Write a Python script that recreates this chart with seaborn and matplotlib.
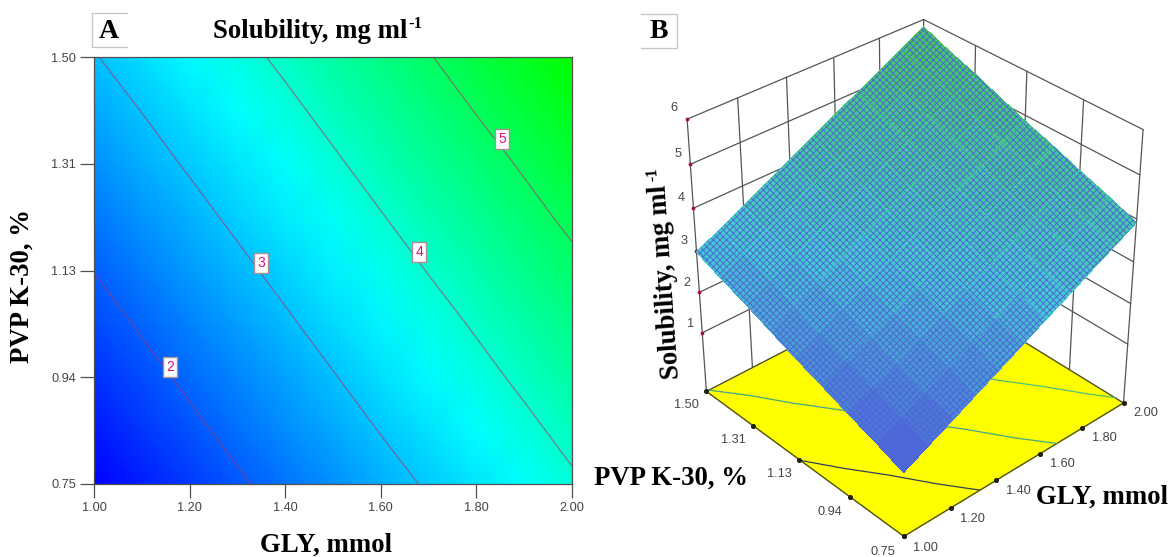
import numpy as np
import pandas as pd
import matplotlib
matplotlib.use('Agg')
import matplotlib.pyplot as plt
import seaborn as sns
from matplotlib.colors import LinearSegmentedColormap
from matplotlib.lines import Line2D
from mpl_toolkits.mplot3d import proj3d

# Values
gly = [1.0, 1.1, 1.2, 1.3, 1.4, 1.5, 1.6, 1.7, 1.8, 1.9, 2.0]
pvp = ['0.75', '0.84', '0.94', '1.03', '1.13', '1.22', '1.31', '1.41', '1.50']
gly_ticks = ['1.00', '1.20', '1.40', '1.60', '1.80', '2.00']
pvp_ticks = ['0.75', '0.94', '1.13', '1.31', '1.50']
sol_ticks = [1, 2, 3, 4, 5, 6]
levels = [2, 3, 4, 5]

row_075 = [1.06, 1.35, 1.63, 1.92, 2.20, 2.49, 2.78, 3.06, 3.35, 3.63, 3.92]
row_084 = [1.30, 1.59, 1.87, 2.16, 2.44, 2.73, 3.02, 3.30, 3.59, 3.87, 4.16]
row_094 = [1.54, 1.82, 2.11, 2.40, 2.68, 2.97, 3.26, 3.54, 3.83, 4.11, 4.40]
row_103 = [1.77, 2.06, 2.35, 2.63, 2.92, 3.21, 3.49, 3.78, 4.06, 4.35, 4.63]
row_113 = [2.01, 2.30, 2.59, 2.87, 3.16, 3.44, 3.73, 4.02, 4.30, 4.59, 4.87]
row_122 = [2.25, 2.54, 2.82, 3.11, 3.40, 3.68, 3.97, 4.26, 4.54, 4.83, 5.11]
row_131 = [2.49, 2.78, 3.06, 3.35, 3.63, 3.92, 4.21, 4.49, 4.78, 5.06, 5.35]
row_141 = [2.73, 3.01, 3.30, 3.59, 3.87, 4.16, 4.45, 4.73, 5.02, 5.30, 5.59]
row_150 = [2.97, 3.25, 3.54, 3.83, 4.11, 4.40, 4.69, 4.97, 5.26, 5.54, 5.83]

table = pd.DataFrame([row_075, row_084, row_094, row_103, row_113, row_122, row_131, row_141, row_150],
                     index=pvp, columns=gly)

sns.set_theme(style='white')
plt.rcParams['font.family'] = ['Liberation Sans', 'DejaVu Sans']
plt.rcParams['hatch.color'] = '#0c2530'
plt.rcParams['hatch.linewidth'] = 0.7

W, H = 1170, 557
fig = plt.figure(figsize=(W / 100, H / 100), dpi=100)
serif = dict(family='Liberation Serif', weight='bold', color='black', ha='center', va='center')
tick_grey = '#505050'


def put(x, y, s, size=19.3, **kw):
    fig.text(x / W, 1 - y / H, s, fontsize=size, **{**serif, **kw})


def box_lines(points):
    xs, ys = zip(*points)
    fig.add_artist(Line2D([x / W for x in xs], [1 - y / H for y in ys], color='#c4c4c4', lw=0.9))


# Panel A: contour plot
ax = fig.add_axes([94 / W, (H - 484) / H, 478 / W, 426.8 / H])
cmap_a = LinearSegmentedColormap.from_list('bcg', [(0, '#0000ff'), (0.53, '#00ffff'), (1, '#00ff00')])
sns.heatmap(table, ax=ax, cmap=cmap_a, cbar=False, vmin=1.06, vmax=5.83, shading='gouraud',
            xticklabels=False, yticklabels=False)
ax.contour(table.values, levels=levels, colors='#b0306a', linewidths=0.85, alpha=0.65)
ax.set_xlim(0, 10)
ax.set_ylim(0, 8)
ax.set_xticks(np.arange(0, 11, 2), gly_ticks)
ax.set_yticks(np.arange(0, 9, 2), pvp_ticks)
ax.tick_params(length=10, width=0.9, color=tick_grey, labelcolor='#444444', labelsize=9.2, pad=3,
               bottom=True, left=True)
for sp in ax.spines.values():
    sp.set_visible(True)
    sp.set_color(tick_grey)
    sp.set_linewidth(0.9)

label_spots = [(1.60, 2.20), (3.49, 4.14), (6.80, 4.35), (8.54, 6.46)]
for lev, (lx, ly) in zip(levels, label_spots):
    ax.text(lx, ly, str(lev), color='#e0107a', fontsize=10, ha='center', va='center',
            bbox=dict(boxstyle='square,pad=0.22', fc='white', ec='#a89098', lw=1))

put(310, 31, 'Solubility, mg ml')
put(415, 24, '-1', size=12)
put(109, 32, 'A', size=20)
box_lines([(127, 12.5), (92, 12.5), (92, 47), (127, 47)])
put(326, 545, 'GLY, mmol')
put(22, 286, 'PVP K-30, %', rotation=90)

# Panel B: surface plot
zmin, zmax = -0.5, 6
side = 530
ax3 = fig.add_axes([(907 - side / 2) / W, (H - 274 - side / 2) / H, side / W, side / H], projection='3d')
ax3.patch.set_visible(False)
ax3.set_axis_off()
ax3.computed_zorder = False
ax3.view_init(elev=34, azim=-132.4)
ax3.set_proj_type('persp', focal_length=0.72)
ax3.set_box_aspect((1, 1, 1.065))
ax3.set_xlim(1, 2)
ax3.set_ylim(0.75, 1.5)
ax3.set_zlim(zmin, zmax)

gx = np.array(table.columns, dtype=float)
gy = np.array(table.index, dtype=float)
X, Y = np.meshgrid(gx, gy)
tx = gx[::2]
ty = gy[::2]
wall = dict(color='#555555', lw=0.9, zorder=1)

# back walls
for z in sol_ticks:
    ax3.plot([1, 2], [1.5, 1.5], [z, z], **wall)
    ax3.plot([2, 2], [1.5, 0.75], [z, z], **wall)
for x in tx[1:-1]:
    ax3.plot([x, x], [1.5, 1.5], [zmin, zmax], **wall)
for y in ty[1:-1]:
    ax3.plot([2, 2], [y, y], [zmin, zmax], **wall)
ax3.plot([2, 2], [1.5, 1.5], [zmin, zmax], **wall)
ax3.plot([1, 1], [1.5, 1.5], [zmin, zmax], **wall)
ax3.plot([2, 2], [0.75, 0.75], [zmin, zmax], **wall)

# floor with the contours on it
floor_x, floor_y = np.meshgrid([1, 2], [0.75, 1.5])
ax3.plot_surface(floor_x, floor_y, np.full((2, 2), zmin), color='#ffff00', shade=False, zorder=2,
                 antialiased=False, linewidth=0)
ax3.plot([1, 2, 2, 1, 1], [0.75, 0.75, 1.5, 1.5, 0.75], [zmin] * 5, color='#505010', lw=1, zorder=3)
cs = ax3.contour(X, Y, table.values, levels=levels, zdir='z', offset=zmin,
                 colors=['#30405a', '#40a888', '#50c078', '#50c078'], linewidths=0.9, zorder=3)
cs.set_zorder(3)
ax3.scatter(tx, [0.75] * len(tx), [zmin] * len(tx), color='#202010', s=7, depthshade=False, zorder=4)
ax3.scatter([1] * len(ty), ty, [zmin] * len(ty), color='#202010', s=7, depthshade=False, zorder=4)
ax3.scatter([1] * 6, [1.5] * 6, sol_ticks, color='#a01040', s=3, depthshade=False, zorder=4)

# response surface
cmap_b = LinearSegmentedColormap.from_list('surf', [(0, '#5058d8'), (0.42, '#44ccd0'), (1, '#44c850')])
face = cmap_b((table.values[:-1, :-1] + table.values[1:, 1:] - 2 * 1.06) / (2 * (5.83 - 1.06)))
surf = ax3.plot_surface(X, Y, table.values, rstride=1, cstride=1, facecolors=face, shade=False,
                        linewidth=0, antialiased=False, zorder=5)
surf.set_hatch('xxxxx')


# tick labels, placed through the 3d projection
def label3d(x, y, z, s):
    px, py, _ = proj3d.proj_transform(x, y, z, ax3.get_proj())
    ax3.text2D(px, py, s, transform=ax3.transData, fontsize=9.2, color='#444444', ha='center', va='center')


for x, lab in zip(tx, gly_ticks):
    label3d(x, 0.75 - 0.075, zmin + 0.1, lab)
for y, lab in zip(ty, pvp_ticks):
    label3d(1 - 0.085, y, zmin - 0.08, lab)
for z in sol_ticks:
    label3d(1 - 0.045, 1.5, z + 0.35, str(z))

put(659, 31, 'B', size=20)
box_lines([(641, 13.5), (677, 13.5), (677, 48), (641, 48)])
put(671, 478, 'PVP K-30, %')
put(1102, 497, 'GLY, mmol')
put(666, 282, 'Solubility, mg ml', rotation=94)
put(653, 174, '-1', size=12, rotation=94)

fig.savefig('out.png', dpi=100)
plt.close('all')
